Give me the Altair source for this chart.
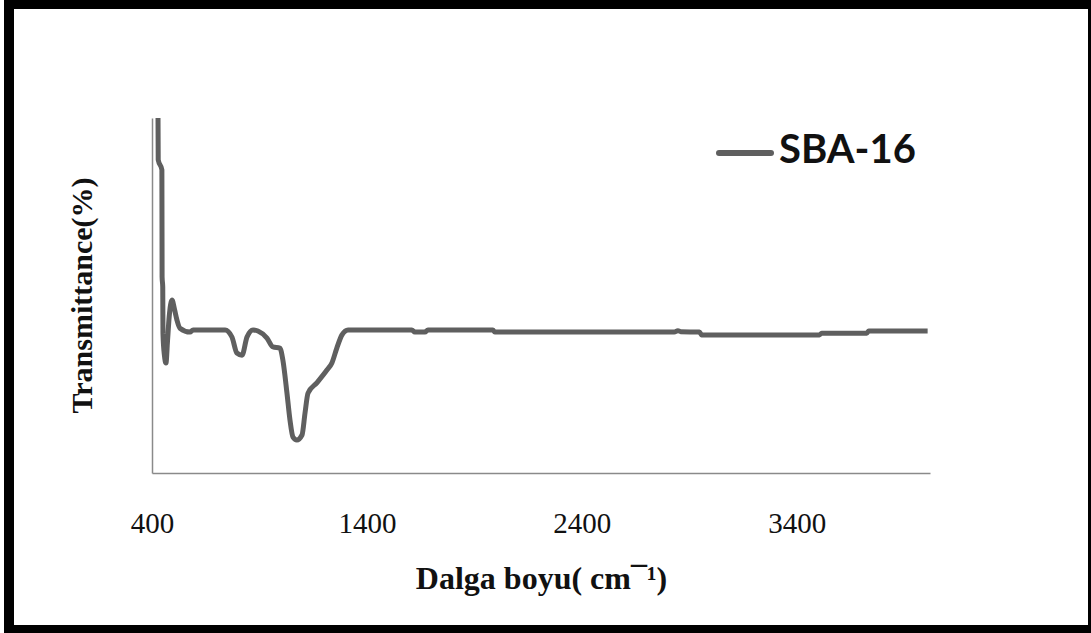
import altair as alt
import pandas as pd

# FT-IR spectrum of SBA-16 (wavenumber in cm^-1, transmittance in arbitrary %)
wavenumber = [428, 429, 446, 447, 450, 451, 458, 465, 472, 480, 493, 505, 516, 530, 577,
              591, 740, 772, 795, 819, 842, 870, 893, 935, 963, 995, 1009, 1028, 1042,
              1056, 1074, 1098, 1112, 1126, 1167, 1214, 1237, 1260, 1284, 1312, 1609,
              1623, 1670, 1684, 1986, 1995, 2830, 2847, 2860, 2947, 2957, 3506, 3516,
              3726, 3735, 4009]
transmittance = [100.0, 88.2, 85.4, 55.2, 52.4, 39.4, 33.0, 31.0, 37.0, 44.0, 48.7, 46.0,
                 43.1, 40.8, 39.7, 40.3, 40.3, 38.3, 33.8, 33.2, 38.3, 40.3, 40.0, 38.0,
                 35.5, 35.2, 31.8, 22.5, 14.9, 10.1, 9.3, 10.7, 16.9, 22.5, 25.4, 29.0,
                 31.0, 35.2, 38.9, 40.3, 40.3, 39.7, 39.7, 40.3, 40.3, 39.7, 39.7, 40.1,
                 39.8, 39.7, 38.9, 38.9, 39.4, 39.4, 40.0, 40.0]

x_ticks = [400, 1400, 2400, 3400]
series_name = "SBA-16"

df = pd.DataFrame({"wn": wavenumber, "t": transmittance, "order": range(len(wavenumber))})

W, H = 778, 355
LINE_COLOR = "#5f5f5f"
AXIS_COLOR = "#8a8a8a"

spectrum = alt.Chart(df).mark_line(
    color=LINE_COLOR, strokeWidth=5, strokeJoin="round", strokeCap="butt",
    interpolate="monotone"
).encode(
    x=alt.X(
        "wn:Q",
        scale=alt.Scale(domain=[400, 4020], nice=False, zero=False),
        axis=alt.Axis(
            values=x_ticks,
            format="d",
            ticks=False,
            tickSize=0,
            grid=False,
            labelFlush=False,
            labelOverlap=False,
            domainColor=AXIS_COLOR,
            domainWidth=1.5,
            labelFont="Liberation Serif",
            labelFontSize=29,
            labelColor="#111111",
            labelPadding=36,
            labelBaseline="top",
            title="Dalga boyu( cm\u00af\u00b9)",
            titleFont="Liberation Serif",
            titleFontSize=32,
            titleFontWeight="bold",
            titleColor="#111111",
            titleBaseline="alphabetic",
            titleY=115,
        ),
    ),
    y=alt.Y(
        "t:Q",
        scale=alt.Scale(domain=[0, 100], nice=False, zero=False),
        axis=alt.Axis(
            ticks=False,
            tickSize=0,
            labels=False,
            grid=False,
            domainColor=AXIS_COLOR,
            domainWidth=1.5,
            title="Transmittance(%)",
            titleFont="Liberation Serif",
            titleFontSize=30,
            titleFontWeight="bold",
            titleColor="#111111",
            titleAngle=270,
            titleBaseline="middle",
            titleX=-70,
            titleY=177,
        ),
    ),
    order="order:Q",
)

one = pd.DataFrame({"label": [series_name]})

legend_line = alt.Chart(one).mark_rule(
    color=LINE_COLOR, strokeWidth=6, strokeCap="round", clip=False
).encode(x=alt.value(567), x2=alt.value(619), y=alt.value(35))

legend_text = alt.Chart(one).mark_text(
    font="Lato", fontSize=40, fontWeight="bold", color="#111111",
    align="left", baseline="alphabetic", clip=False
).encode(text="label:N", x=alt.value(627), y=alt.value(45))

frame = alt.Chart(one).mark_rect(
    fillOpacity=0, stroke="black", strokeWidth=10, clip=False
).encode(x=alt.value(-143), x2=alt.value(941), y=alt.value(-114), y2=alt.value(512))

chart = alt.layer(spectrum, legend_line, legend_text, frame).properties(
    width=W,
    height=H,
    autosize=alt.AutoSizeParams(type="none"),
    padding={"left": 152, "top": 118, "right": 161, "bottom": 160},
    background="white",
).configure_view(stroke=None)

chart.save("out.html", embed_options={"renderer": "svg", "actions": False})
